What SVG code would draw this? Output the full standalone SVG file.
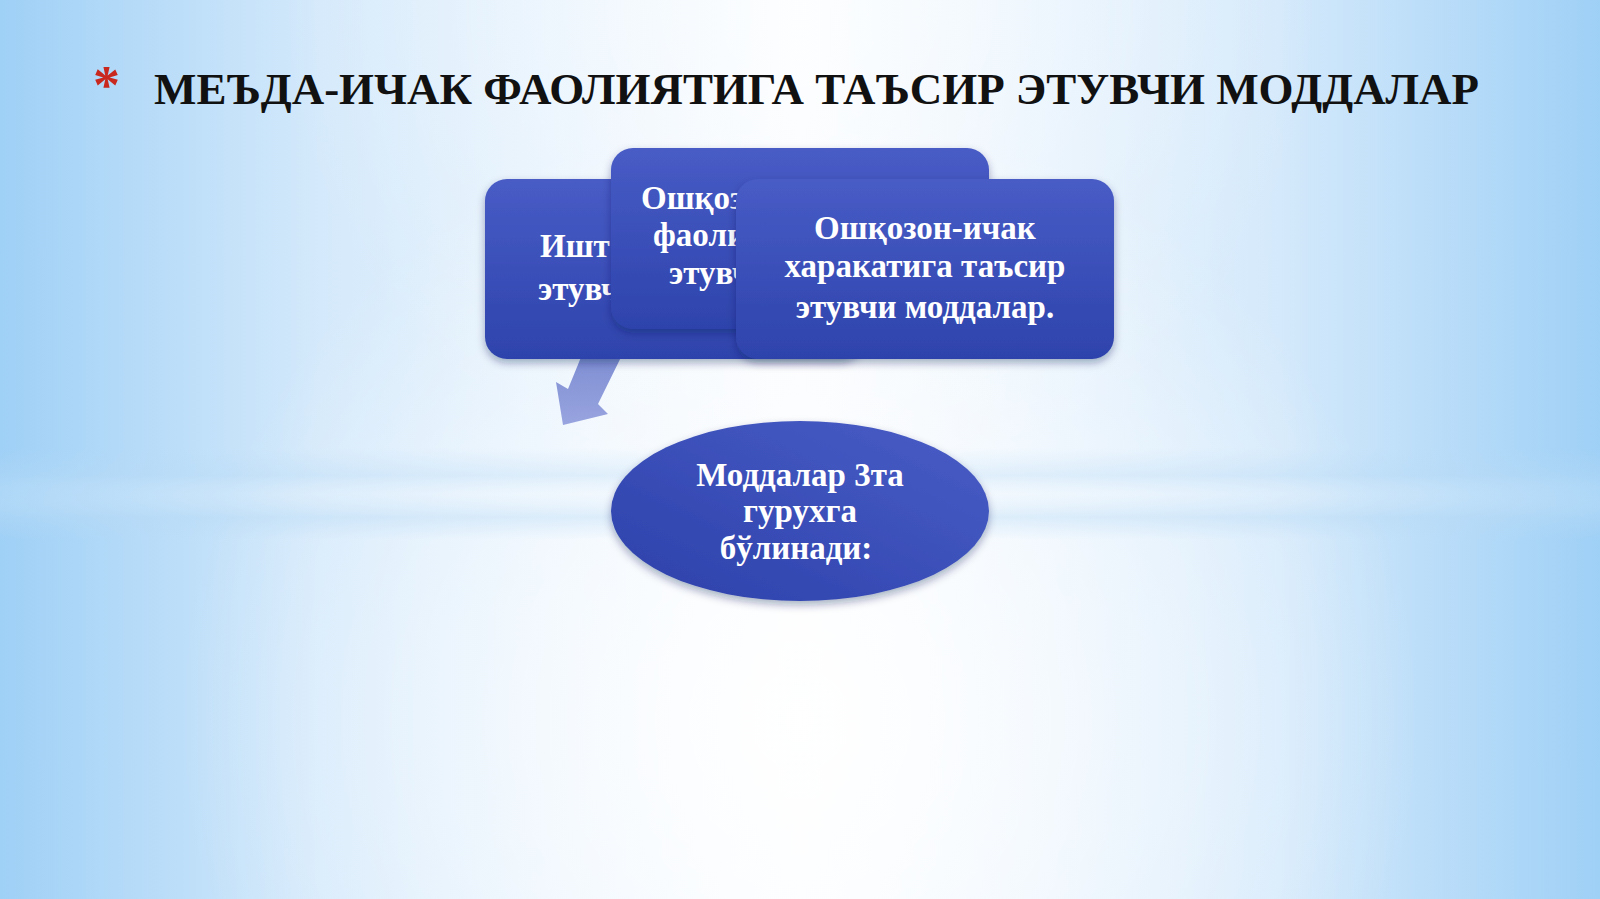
<svg xmlns="http://www.w3.org/2000/svg" width="1600" height="899" viewBox="0 0 1600 899">
<style>
.title{font-family:"Liberation Serif","Times New Roman",serif;font-weight:bold;font-size:45px;fill:#111}
.star{font-family:"Liberation Serif","Times New Roman",serif;font-weight:bold;font-size:54px;fill:#c8281e}
.t{font-family:"Liberation Serif","Times New Roman",serif;font-weight:bold;font-size:33px;fill:#ffffff}
.te{font-family:"Liberation Serif","Times New Roman",serif;font-weight:bold;font-size:33px;fill:#ffffff;text-anchor:middle}
.box{fill:url(#boxG);filter:url(#sh)}
</style>
<defs>
<linearGradient id="bgH" x1="0" y1="0" x2="1" y2="0">
<stop offset="0" stop-color="#9fd0f6"/>
<stop offset="0.2" stop-color="#d4e9fb"/>
<stop offset="0.5" stop-color="#f9fcff"/>
<stop offset="0.8" stop-color="#d4e9fb"/>
<stop offset="1" stop-color="#9fd0f6"/>
</linearGradient>
<radialGradient id="bgR" cx="800" cy="720" r="620" gradientUnits="userSpaceOnUse">
<stop offset="0" stop-color="#ffffff" stop-opacity="0.95"/>
<stop offset="0.6" stop-color="#ffffff" stop-opacity="0.4"/>
<stop offset="1" stop-color="#ffffff" stop-opacity="0"/>
</radialGradient>
<radialGradient id="bgTopR" cx="800" cy="0" r="520" gradientUnits="userSpaceOnUse">
<stop offset="0" stop-color="#ffffff" stop-opacity="0.6"/>
<stop offset="1" stop-color="#ffffff" stop-opacity="0"/>
</radialGradient>
<linearGradient id="band" x1="0" y1="0" x2="0" y2="1">
<stop offset="0" stop-color="#b8daf5" stop-opacity="0"/>
<stop offset="0.3" stop-color="#b8daf5" stop-opacity="0.35"/>
<stop offset="0.5" stop-color="#e6f2fc" stop-opacity="0.2"/>
<stop offset="0.75" stop-color="#b8daf5" stop-opacity="0.4"/>
<stop offset="1" stop-color="#b8daf5" stop-opacity="0"/>
</linearGradient>
<linearGradient id="boxG" x1="0" y1="0" x2="0" y2="1">
<stop offset="0" stop-color="#485cc6"/>
<stop offset="1" stop-color="#2e43ac"/>
</linearGradient>
<linearGradient id="ellG" x1="1" y1="0" x2="0" y2="1">
<stop offset="0" stop-color="#4a5ec7"/>
<stop offset="1" stop-color="#2c40aa"/>
</linearGradient>
<linearGradient id="arrG" x1="0" y1="0" x2="0" y2="1">
<stop offset="0" stop-color="#6e7fcc"/>
<stop offset="1" stop-color="#8e9bdc"/>
</linearGradient>
<filter id="sh" x="-10%" y="-10%" width="120%" height="130%">
<feDropShadow dx="0" dy="4" stdDeviation="4" flood-color="#0a1850" flood-opacity="0.35"/>
</filter>
</defs>
<g id="background">
<rect x="0" y="0" width="1600" height="899" fill="url(#bgH)"/>
<rect x="0" y="0" width="1600" height="899" fill="url(#bgR)"/>
<rect x="0" y="0" width="1600" height="520" fill="url(#bgTopR)"/>
<rect x="0" y="448" width="1600" height="92" fill="url(#band)"/>
</g>
<g id="title">
<text class="star" x="93" y="103">*</text>
<text class="title" x="154" y="104" textLength="1325" lengthAdjust="spacingAndGlyphs">МЕЪДА-ИЧАК ФАОЛИЯТИГА ТАЪСИР ЭТУВЧИ МОДДАЛАР</text>
</g>
<g id="connectors">
<polygon points="586,345 627,345 598,404 608,414 563,425 556,382 568,389" fill="url(#arrG)" opacity="0.9"/>
</g>
<g id="node-left">
<rect class="box" x="485" y="179" width="378" height="180" rx="22"/>
<text class="t" x="540" y="257">Ишт</text>
<text class="t" x="538" y="300">этувч</text>
</g>
<g id="node-middle">
<rect class="box" x="611" y="148" width="378" height="181" rx="22"/>
<text class="t" x="641" y="209">Ошқоз</text>
<text class="t" x="653" y="246">фаоли</text>
<text class="t" x="669" y="284">этувч</text>
</g>
<g id="node-right">
<rect class="box" x="736" y="179" width="378" height="180" rx="22"/>
<text class="t" x="925" y="239" text-anchor="middle">Ошқозон-ичак</text>
<text class="t" x="925" y="277" text-anchor="middle">харакатига таъсир</text>
<text class="t" x="925" y="318" text-anchor="middle">этувчи моддалар.</text>
</g>
<g id="node-ellipse">
<ellipse cx="800" cy="511" rx="189" ry="90" fill="url(#ellG)" filter="url(#sh)"/>
<text class="te" x="800" y="486">Моддалар 3та</text>
<text class="te" x="800" y="522">гурухга</text>
<text class="te" x="796" y="559">бўлинади:</text>
</g>
</svg>
